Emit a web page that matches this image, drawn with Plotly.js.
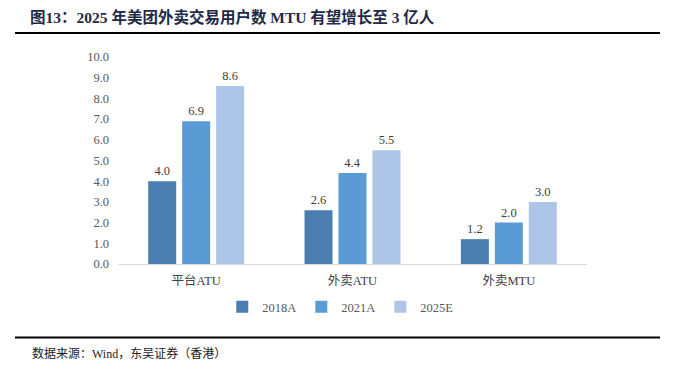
<!DOCTYPE html>
<html>
<head>
<meta charset="utf-8">
<script src="https://cdn.plot.ly/plotly-3.0.1.min.js"></script>
<style>html,body{margin:0;padding:0;background:#fff;}#chart{width:677px;height:375px;}</style>
</head>
<body>
<div id="chart"></div>
<script>
var categories = ["平台ATU", "外卖ATU", "外卖MTU"];
var seriesNames = ["2018A", "2021A", "2025E"];
var values2018A = [4.0, 2.6, 1.2];
var values2021A = [6.9, 4.4, 2.0];
var values2025E = [8.6, 5.5, 3.0];
var yTicks = [0, 1, 2, 3, 4, 5, 6, 7, 8, 9, 10];

var colors = ["#4a7eb1", "#5b9bd5", "#adc6e7"];
var serif = "Liberation Serif, Noto Sans CJK SC, serif";
var allValues = [values2018A, values2021A, values2025E];

var traces = allValues.map(function (vals, i) {
  return {
    type: "bar",
    name: seriesNames[i],
    x: categories,
    y: vals,
    marker: {color: colors[i]},
    texttemplate: "%{y:.1f}",
    textposition: "outside",
    textfont: {family: serif, size: 12.5, color: "#404040"},
    cliponaxis: false,
    hoverinfo: "skip"
  };
});

var layout = {
  width: 677,
  height: 375,
  margin: {l: 118, r: 90, t: 57, b: 111},
  paper_bgcolor: "#ffffff",
  plot_bgcolor: "#ffffff",
  barmode: "group",
  bargap: 0.348,
  bargroupgap: 0.176,
  font: {family: serif, color: "#595959"},
  title: {
    text: "图13：2025 年美团外卖交易用户数 MTU 有望增长至 3 亿人",
    font: {family: serif, size: 15.5, color: "#1f2a48", weight: "bold"},
    x: 30 / 677, xanchor: "left", xref: "container",
    y: 1 - 18 / 375, yanchor: "middle", yref: "container"
  },
  xaxis: {
    showline: true, linecolor: "#d9d9d9", linewidth: 1,
    ticks: "", showgrid: false,
    tickfont: {family: serif, size: 12.5, color: "#404040"},
    ticklabelstandoff: 5,
    fixedrange: true
  },
  yaxis: {
    range: [0, 10], tickvals: yTicks, tickformat: ".1f",
    showgrid: false, zeroline: false, showline: false, ticks: "",
    tickfont: {family: serif, size: 12.5, color: "#595959"},
    ticklabelstandoff: 8,
    fixedrange: true
  },
  showlegend: true,
  legend: {
    orientation: "h", x: 0.475, xanchor: "center", y: -0.208, yanchor: "middle",
    font: {family: serif, size: 12.5, color: "#595959"},
    itemwidth: 30, traceorder: "normal", tracegroupgap: 0
  },
  shapes: [
    {type: "line", xref: "paper", yref: "paper", x0: (15 - 118) / 469, x1: (660 - 118) / 469,
     y0: (264 - 33) / 207, y1: (264 - 33) / 207, line: {color: "#000000", width: 2}},
    {type: "line", xref: "paper", yref: "paper", x0: (15 - 118) / 469, x1: (660 - 118) / 469,
     y0: (264 - 337.5) / 207, y1: (264 - 337.5) / 207, line: {color: "#000000", width: 2}}
  ],
  annotations: [
    {text: "数据来源：Wind，东吴证券（香港）", xref: "paper", yref: "paper",
     x: (30 - 118) / 469, xanchor: "left", y: (264 - 353) / 207, yanchor: "middle",
     showarrow: false, font: {family: serif, size: 12, color: "#1a1a1a"}}
  ]
};

Plotly.newPlot("chart", traces, layout, {displayModeBar: false, staticPlot: true});
</script>
</body>
</html>
